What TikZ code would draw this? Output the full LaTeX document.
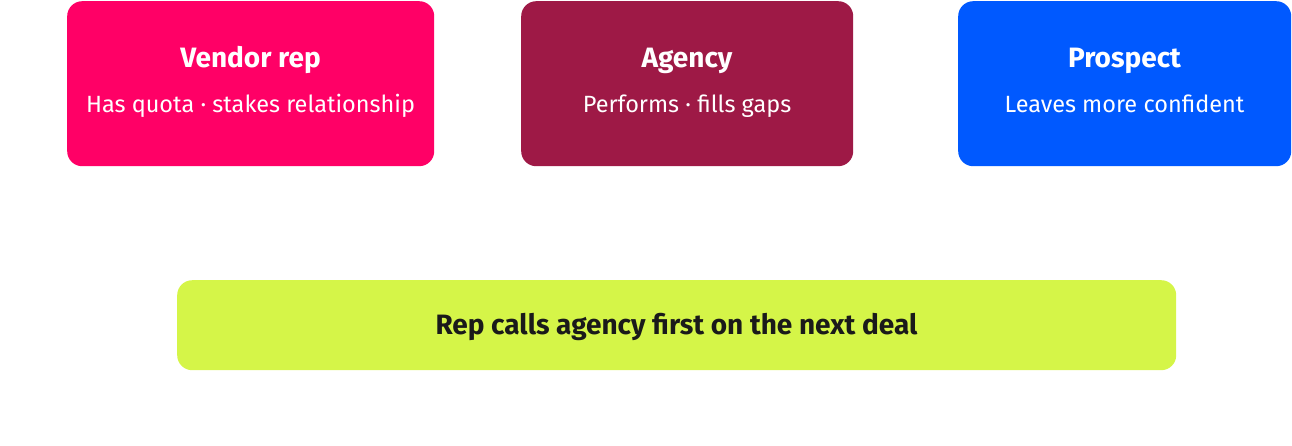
\documentclass[tikz,border=0pt]{standalone}
\usepackage{fontspec}
\setmainfont{Fira Sans}
\definecolor{vendorpink}{HTML}{FF0066}
\definecolor{agencywine}{HTML}{9E1946}
\definecolor{prospectblue}{HTML}{0059FF}
\definecolor{outcomelime}{HTML}{D5F548}
\definecolor{outcometext}{HTML}{1A1A1A}

\begin{document}
\begin{tikzpicture}[x=1pt,y=-1pt,
    card/.style={rounded corners=15pt, inner sep=0pt, anchor=north west},
    cardtitle/.style={text=white, font=\fontsize{28}{32}\selectfont\bfseries, inner sep=0pt, anchor=base},
    cardsub/.style={text=white, font=\fontsize{23.5}{28}\selectfont, inner sep=0pt, anchor=base}]
    \useasboundingbox (0,0) rectangle (1292,445);

    % Top row
    \node[card, fill=vendorpink, minimum width=367pt, minimum height=165pt] (vendor) at (67,1) {};
    \node[cardtitle] (vendortitle) at (250.5,67) {Vendor rep};
    \node[cardsub] (vendorsub) at (250.5,112) {Has quota · stakes relationship};

    \node[card, fill=agencywine, minimum width=332pt, minimum height=165pt] (agency) at (521,1) {};
    \node[cardtitle] (agencytitle) at (687,67) {Agency};
    \node[cardsub] (agencysub) at (687,112) {Performs · fills gaps};

    \node[card, fill=prospectblue, minimum width=333pt, minimum height=165pt] (prospect) at (958,1) {};
    \node[cardtitle] (prospecttitle) at (1124.5,67) {Prospect};
    \node[cardsub] (prospectsub) at (1124.5,112) {Leaves more confident};

    % Outcome
    \node[card, fill=outcomelime, minimum width=999pt, minimum height=90pt] (outcome) at (177,280) {};
    \node[text=outcometext, font=\fontsize{28}{32}\selectfont\bfseries, inner sep=0pt, anchor=base] (outcometitle) at (676.5,334) {Rep calls agency first on the next deal};
\end{tikzpicture}
\end{document}
